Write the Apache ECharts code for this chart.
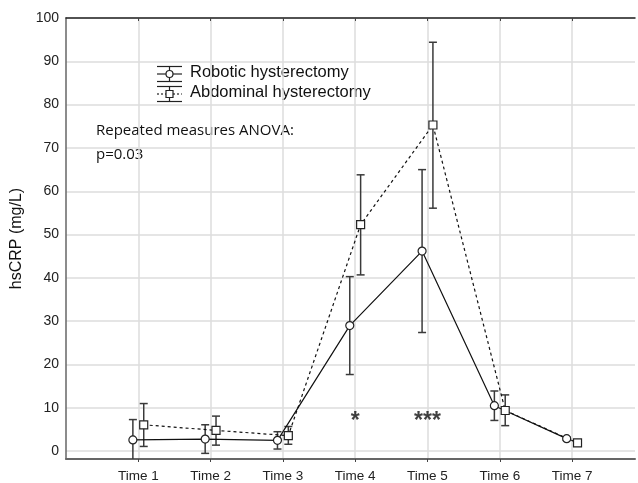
<!DOCTYPE html>
<html><head><meta charset="utf-8">
<script src="https://cdn.jsdelivr.net/npm/echarts@6/dist/echarts.min.js"></script>
<style>html,body{margin:0;padding:0;background:#fff}#c{width:638px;height:483px}</style>
</head><body><div id="c"></div>
<script>
const categories = ['Time 1','Time 2','Time 3','Time 4','Time 5','Time 6','Time 7'];
const roboticMean = [2.6, 2.8, 2.5, 29.0, 46.2, 10.5, 2.9];
const roboticLow  = [-2.1, -0.5, 0.5, 17.7, 27.4, 7.1, 2.5];
const roboticHigh = [7.3, 6.1, 4.5, 40.3, 65.0, 13.9, 3.3];
const abdominalMean = [6.1, 4.8, 3.6, 52.3, 75.3, 9.4, 1.9];
const abdominalLow  = [1.1, 1.4, 1.6, 40.7, 56.1, 5.9, 1.5];
const abdominalHigh = [11.0, 8.1, 5.7, 63.8, 94.4, 13.0, 2.3];
const seriesNames = ['Robotic hysterectomy', 'Abdominal hysterectomy'];
const yTicks = [0,10,20,30,40,50,60,70,80,90,100];
const annotationLines = ['Repeated measures ANOVA:', 'p=0.03'];
const significance = ['', '', '', '*', '***', '', ''];

const OFF = 0.075;
const catPos = categories.map((c,i)=>i+1);
const chart = echarts.init(document.getElementById('c'), null, {renderer:'canvas'});

function pts(mean, off){ return mean.map((v,i)=>[i+1+off, v]); }
function bars(low, high, off){ return low.map((v,i)=>[i+1+off, v, high[i]]); }

function errRender(params, api){
  const x = api.value(0);
  const lo = api.coord([x, api.value(1)]);
  const hi = api.coord([x, api.value(2)]);
  const w = 4;
  const st = {stroke:'#3a3a3a', lineWidth:1.5};
  return {type:'group', children:[
    {type:'line', shape:{x1:lo[0],y1:lo[1],x2:hi[0],y2:hi[1]}, style:st},
    {type:'line', shape:{x1:lo[0]-w,y1:lo[1],x2:lo[0]+w,y2:lo[1]}, style:st},
    {type:'line', shape:{x1:hi[0]-w,y1:hi[1],x2:hi[0]+w,y2:hi[1]}, style:st}
  ]};
}

const baseFont = '"Liberation Sans", Arial, sans-serif';

function legendIcon(cy, dashed, symbol){
  const x0 = 157, x1 = 182, xc = 169.5;
  const st = {stroke:'#222', lineWidth:1.2};
  const kids = [
    {type:'line', shape:{x1:x0,y1:cy-7.5,x2:x1,y2:cy-7.5}, style:st},
    {type:'line', shape:{x1:x0,y1:cy+7.5,x2:x1,y2:cy+7.5}, style:st},
    {type:'line', shape:{x1:xc,y1:cy-7.5,x2:xc,y2:cy+7.5}, style:st},
    {type:'line', shape:{x1:x0,y1:cy,x2:x1,y2:cy}, style:{stroke:'#222', lineWidth:1.2, lineDash: dashed?[2,2]:null}}
  ];
  if (symbol==='circle') kids.push({type:'circle', shape:{cx:xc,cy:cy,r:3.5}, style:{fill:'#fff', stroke:'#222', lineWidth:1.2}});
  else kids.push({type:'rect', shape:{x:xc-3.5,y:cy-3.5,width:7,height:7}, style:{fill:'#fff', stroke:'#222', lineWidth:1.2}});
  return kids;
}

const graphics = [].concat(
  legendIcon(74, false, 'circle'),
  legendIcon(94, true, 'rect'),
  [
    {type:'text', left:190, top:64, style:{text:seriesNames[0], font:'16.5px '+baseFont, fill:'#111'}},
    {type:'text', left:190, top:84, style:{text:seriesNames[1], font:'16.5px '+baseFont, fill:'#111'}},
    {type:'text', left:96, top:123, style:{text:annotationLines[0], font:'15px "Open Sans", sans-serif', fill:'#111'}},
    {type:'text', left:96, top:147, style:{text:annotationLines[1], font:'15px "Open Sans", sans-serif', fill:'#111'}}
  ]
);

const option = {
  animation:false,
  backgroundColor:'#fff',
  grid:{left:66, right:0, top:18, bottom:21},
  xAxis:[{
    type:'value', min:0, max:7.87, interval:1,
    axisLine:{show:true, onZero:false, lineStyle:{color:'#666', width:2}},
    axisTick:{show:true, length:3, customValues:catPos, lineStyle:{color:'#444'}},
    axisLabel:{margin:10, fontSize:13.5, fontFamily:baseFont, color:'#222',
      formatter:v=> (v>=1 && v<=7 && Math.abs(v-Math.round(v))<1e-6) ? categories[Math.round(v)-1] : ''},
    splitLine:{show:true, lineStyle:{color:'#dcdcdc', width:1.5}}
  },{
    type:'value', position:'top', min:0, max:7.87, interval:1,
    axisLine:{show:true, onZero:false, lineStyle:{color:'#222', width:1.5}},
    axisTick:{show:true, inside:true, length:3, customValues:catPos, lineStyle:{color:'#444'}},
    axisLabel:{show:false}, splitLine:{show:false}
  }],
  yAxis:{
    type:'value', min:-1.8, max:100, splitNumber:10, minInterval:10, maxInterval:10,
    name:'hsCRP (mg/L)', nameLocation:'middle', nameGap:37, nameRotate:90,
    nameTextStyle:{fontSize:16, fontFamily:baseFont, color:'#111'},
    axisLine:{show:true, onZero:false, lineStyle:{color:'#666', width:1.5}},
    axisTick:{show:false},
    axisLabel:{margin:7, fontSize:14, fontFamily:baseFont, color:'#222',
      formatter:v=> yTicks.indexOf(Math.round(v))>=0 && Math.abs(v-Math.round(v))<1e-6 ? String(Math.round(v)) : ''},
    splitLine:{show:true, lineStyle:{color:'#dcdcdc', width:1.5}}
  },
  series:[
    {type:'custom', name:'rErr', renderItem:errRender, data:bars(roboticLow, roboticHigh, -OFF), clip:true, z:2, encode:{x:0,y:[1,2]}},
    {type:'custom', name:'aErr', renderItem:errRender, data:bars(abdominalLow, abdominalHigh, OFF), clip:true, z:2, encode:{x:0,y:[1,2]}},
    {type:'line', name:seriesNames[0], data:pts(roboticMean, -OFF), symbol:'circle', symbolSize:8,
      itemStyle:{color:'#fff', borderColor:'#222', borderWidth:1.2},
      lineStyle:{color:'#111', width:1.2}, z:3},
    {type:'line', name:seriesNames[1], data:pts(abdominalMean, OFF), symbol:'rect', symbolSize:8,
      itemStyle:{color:'#fff', borderColor:'#222', borderWidth:1.2},
      lineStyle:{color:'#111', width:1.2, type:[3,3]}, z:3},
    {type:'scatter', name:'sig', data:significance.map((s,i)=>[i+1, 8.0, s]).filter(d=>d[2]), symbolSize:0,
      label:{show:true, position:'inside', formatter:p=>p.data[2], fontSize:23, fontWeight:'bold', fontFamily:baseFont, color:'#111', offset:[0,5]}, z:4}
  ],
  graphic:graphics
};
chart.setOption(option);
</script></body></html>
